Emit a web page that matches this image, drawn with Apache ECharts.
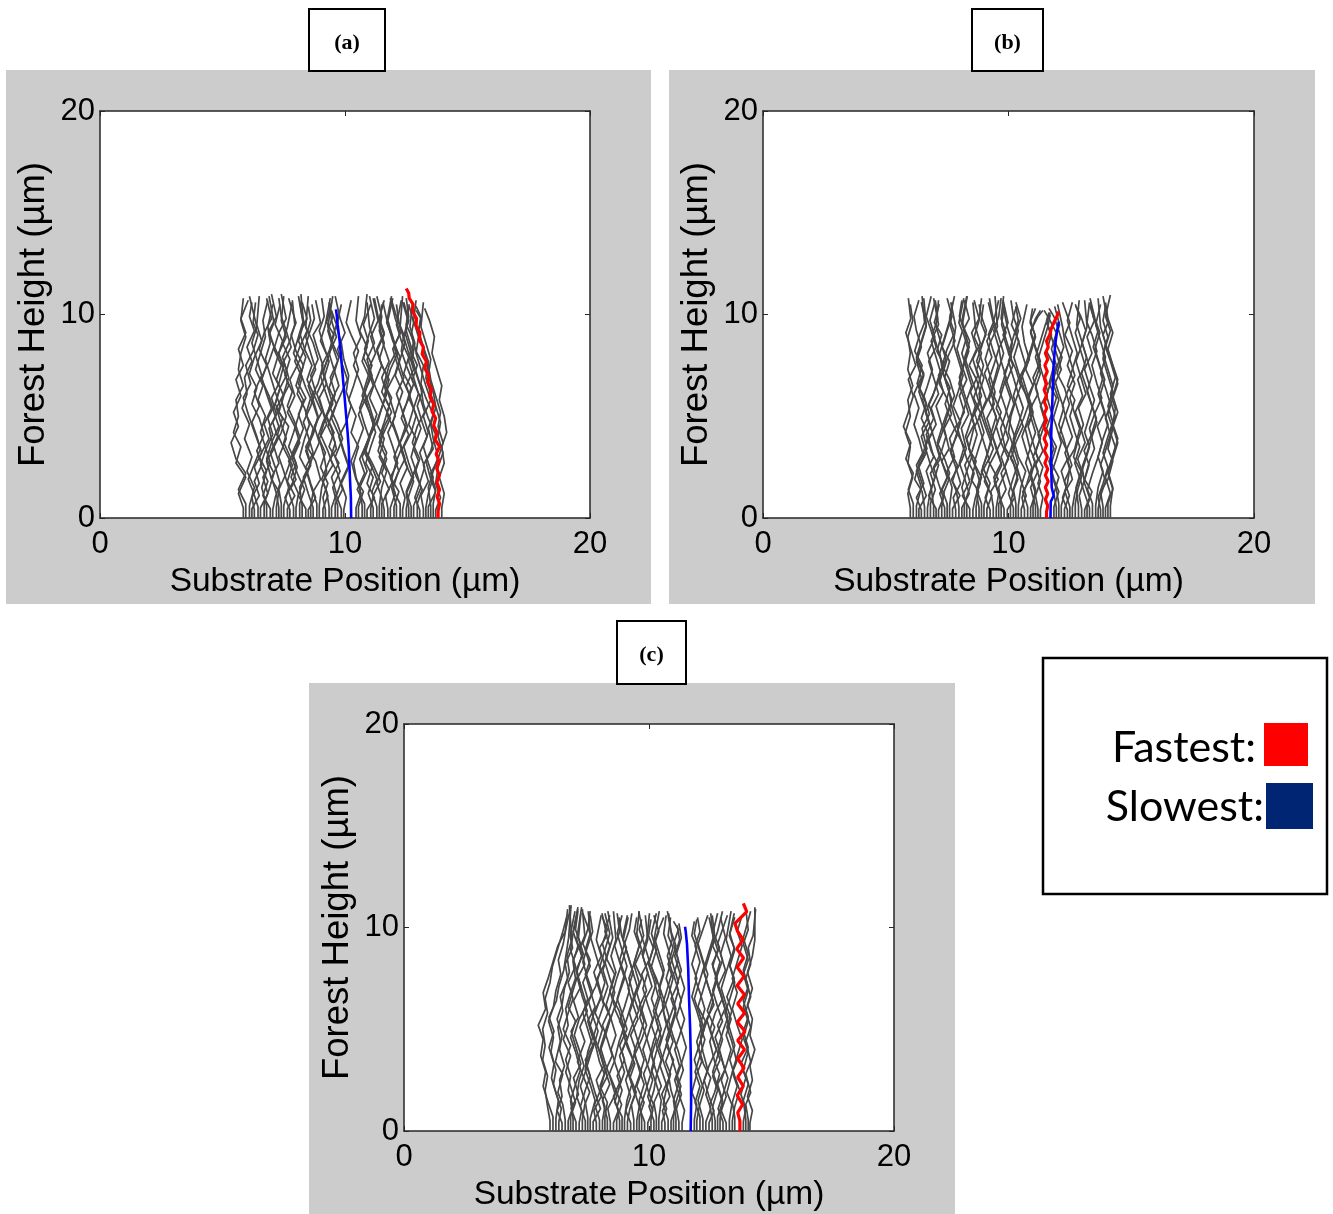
<!DOCTYPE html>
<html><head><meta charset="utf-8">
<script src="https://cdn.jsdelivr.net/npm/echarts@6/dist/echarts.min.js"></script>
<style>html,body{margin:0;padding:0;background:#fff;}#c{width:1333px;height:1214px;}</style>
</head><body><div id="c"></div>
<script>
// ---------------- DATA ----------------
const xTicks = [0, 10, 20];
const yTicks = [0, 10, 20];
const panelLabels = ['(a)', '(b)', '(c)'];
const legendLabels = ['Fastest:', 'Slowest:'];
const xTitle = 'Substrate Position (µm)';
const yTitle = 'Forest Height (µm)';

// sample heights (µm) for the gray CNT paths (last point = each path's top)
const H1 = [0,0.5,1.2,2.0,2.7,3.5,4.2,5.0,5.8,6.5,7.3,8.1,8.9,9.7];
const H2 = [0,0.6,1.5,2.3,3.0,3.9,4.6,5.4,6.1,6.9,7.7,8.4,9.2,9.9];
const H3 = [0,0.4,1.0,1.7,2.5,3.2,4.0,4.7,5.5,6.2,7.0,7.8,8.6,9.4];
const H4 = [0,0.7,1.4,2.2,2.9,3.7,4.5,5.2,6.0,6.8,7.5,8.3,9.1,9.8];
const H5 = [0,0.45,1.1,1.8,2.6,3.3,4.1,4.9,5.6,6.4,7.1,7.9,8.7,9.5];
const H6 = [0,0.55,1.3,1.9,2.8,3.4,4.4,5.1,5.9,6.6,7.5,8.2,9.0,9.6];

// panel (a) gray CNTs: base position (µm), top height (µm), lateral wander (0.1 µm)
const baseA = [5.85,6.1,6.3,6.55,6.8,7.05,7.3,7.5,7.75,8.0,8.25,8.5,8.7,8.95,9.2,9.45,9.7,9.95,10.45,10.7,10.9,11.15,11.4,11.6,11.85,12.1,12.35,12.6,12.8,13.05,13.3,13.5,13.7,13.95];
const topA = [10.8,10.6,10.9,10.7,11.0,10.5,10.9,10.8,10.6,11.0,10.7,10.9,10.4,10.8,10.9,10.6,10.3,10.5,10.9,11.0,10.6,10.8,10.9,10.5,10.8,10.7,10.9,10.6,10.8,10.5,10.7,10.4,10.6,10.3];
const wigA = [
[0,0,-2,1,-3,-1,-4,-2,-3,0,-2,-1,1,-1,0],
[0,0,2,-1,1,-2,0,-3,-1,-2,1,-1,2,0,1],
[0,0,-1,2,0,3,1,-1,2,0,3,1,-1,1,-2],
[0,0,3,1,4,2,0,2,-1,1,-2,0,2,1,3],
[0,0,-2,0,-3,1,-1,2,0,-2,1,3,1,4,2],
[0,0,1,3,1,-1,2,0,3,1,-1,-3,-1,-2,0],
[0,0,-1,-3,0,-2,1,3,1,4,2,0,3,1,2],
[0,0,2,0,-2,1,-1,-3,0,2,0,3,1,-1,-2],
[0,0,-2,1,3,1,4,2,-1,1,-2,0,-3,-1,1],
[0,0,1,-2,0,-3,-1,1,3,0,2,-1,1,3,2],
[0,0,-1,2,-1,1,3,1,-2,0,-3,-1,2,0,-1],
[0,0,3,1,-1,2,0,-2,1,3,1,4,2,-1,0],
[0,0,-2,-4,-1,-3,0,2,0,-2,1,-1,-3,-1,-2],
[0,0,1,3,2,0,3,1,-1,2,4,2,0,2,1],
[0,0,-1,1,-2,0,-3,-1,2,0,-2,1,3,1,3],
[0,0,2,0,3,-1,1,-2,0,3,1,-1,2,0,-1],
[0,0,-2,1,-1,2,0,-3,-1,-3,0,-2,-4,-2,-3],
[0,0,1,-1,2,0,-2,1,3,1,2,0,-1,-3,-1],
[0,0,2,0,-1,1,-2,0,-3,-1,1,-1,2,0,1],
[0,0,-1,2,0,3,1,-1,1,3,0,2,-1,1,2],
[0,0,3,0,2,-1,1,3,1,-1,2,0,3,1,0],
[0,0,-2,0,-3,-1,1,-1,-3,0,-2,1,-1,2,0],
[0,0,1,3,0,2,-1,1,3,1,4,2,0,1,-1],
[0,0,-1,-3,-1,1,-2,0,2,-1,1,-2,0,-2,-1],
[0,0,2,0,3,1,-1,2,0,-2,0,3,1,-1,1],
[0,0,-2,1,-1,2,4,2,0,3,1,-1,2,0,-2],
[0,0,1,-1,2,0,-2,-4,-2,0,-3,-1,1,-1,0],
[0,0,-1,2,0,-2,1,3,1,-1,2,0,-2,0,-2],
[0,0,3,1,-1,1,-2,0,2,0,-2,-1,-3,-2,-3],
[0,0,-2,0,2,0,3,1,-1,1,-1,-3,-2,-4,-3],
[0,0,1,3,1,-1,1,-1,2,0,-2,-4,-3,-5,-4],
[0,0,-1,1,3,1,0,2,0,-2,-1,-3,-5,-4,-6],
[0,0,2,0,1,3,1,2,0,-1,-3,-2,-4,-6,-5],
[0,0,1,-1,1,0,2,1,-1,0,-2,-4,-3,-5,-7]
];
const baseA2 = [5.95,6.2,6.45,6.7,6.95,7.2,7.4,7.65,7.9,8.15,8.4,8.6,8.85,9.1,9.35,9.6,9.85,10.55,10.8,11.05,11.3,11.5,11.75,12.0,12.25,12.5,12.7,12.95,13.2,13.4,13.6];
const topA2 = [10.7,10.9,10.6,10.8,10.5,10.9,11.0,10.7,10.8,10.6,10.9,10.7,10.5,10.8,10.6,10.9,10.2,10.7,10.9,10.5,10.8,10.7,10.6,10.9,10.8,10.7,10.5,10.6,10.4,10.5,10.2];
const wigA2 = [
[0,0,-3,0,-4,-6,-3,-5,-2,-4,-1,-3,0,-2,1],
[0,0,3,1,4,2,5,3,0,2,-1,1,4,2,3],
[0,0,-2,-4,-1,1,-2,-4,-6,-3,-5,-2,0,-2,-1],
[0,0,2,4,1,3,6,4,2,-1,1,-2,0,3,1],
[0,0,-3,-1,-4,-2,1,-1,2,4,1,3,5,2,4],
[0,0,1,-2,-4,-1,-3,0,-2,1,3,0,-3,-1,-3],
[0,0,-1,2,4,1,3,-1,1,-2,0,-3,-1,2,0],
[0,0,3,0,2,-1,-4,-2,-5,-3,0,-2,1,3,2],
[0,0,-2,1,-2,1,4,2,5,2,4,1,-1,1,-2],
[0,0,2,-1,-3,0,-2,-5,-2,-4,-1,2,0,3,1],
[0,0,-3,-1,2,0,3,5,3,0,-2,0,-3,-1,-3],
[0,0,1,4,2,-1,1,-2,0,3,5,3,1,4,2],
[0,0,-2,-4,-2,1,-1,2,-1,-4,-2,-5,-3,-1,-2],
[0,0,2,0,4,2,-1,1,4,2,0,2,-1,1,3],
[0,0,-1,-3,0,3,1,-2,-4,-1,-3,0,2,-1,1],
[0,0,3,1,-2,0,-3,-1,2,5,3,1,4,2,0],
[0,0,-2,0,3,1,-1,-4,-2,-5,-3,-1,-4,-2,-4],
[0,0,2,-1,-3,-1,2,0,3,1,-2,0,-3,-5,-3],
[0,0,-3,0,-2,1,4,2,-1,1,3,0,2,4,2],
[0,0,1,4,1,-2,0,3,5,2,0,-3,-1,-3,0],
[0,0,-2,0,-3,-5,-2,0,-3,-1,2,0,3,1,-1],
[0,0,3,0,2,-1,1,4,1,3,0,-2,1,-1,1],
[0,0,-1,2,-1,-4,-2,1,-2,0,3,5,2,0,-2],
[0,0,2,-1,1,3,0,-3,-1,-4,-2,1,-1,-3,-1],
[0,0,-3,-1,2,0,3,1,4,1,-1,-3,0,-2,-4],
[0,0,1,3,0,-2,1,-2,0,2,-1,1,-2,-4,-2],
[0,0,-2,0,3,1,4,2,-1,1,-2,-4,-3,-5,-6],
[0,0,2,-1,1,-2,0,3,1,-2,0,-3,-5,-4,-6],
[0,0,-1,2,0,3,5,2,0,-1,-3,-5,-4,-7,-6],
[0,0,3,1,-1,2,0,2,-1,-3,-2,-5,-7,-6,-8],
[0,0,1,-1,2,4,2,3,1,-1,-2,-4,-6,-5,-7]
];

// panel (b)
const baseB = [6.0,6.25,6.45,6.7,6.95,7.15,7.4,7.6,7.85,8.1,8.3,8.55,8.8,9.0,9.25,9.5,9.7,9.95,10.2,10.4,10.65,10.9,11.1,11.3,11.95,12.15,12.4,12.6,12.85,13.1,13.3,13.55,13.75,13.95,14.15];
const topB = [10.5,10.7,10.8,10.6,10.9,10.7,10.5,10.8,10.6,10.9,10.7,10.6,10.8,10.5,10.9,10.7,10.8,10.6,10.4,10.7,10.5,10.3,10.2,10.0,10.1,10.3,10.5,10.6,10.4,10.7,10.5,10.6,10.8,10.4,10.96];
const wigB = [
[0,0,-1,1,-1,0,-2,0,-1,1,-1,0,-1,1,0],
[0,0,2,0,3,1,-1,1,-1,2,0,2,0,-1,1],
[0,0,-2,1,-1,2,0,3,1,-1,1,-2,0,2,1],
[0,0,1,3,1,-1,2,0,-2,0,2,0,3,1,3],
[0,0,-1,-3,0,-2,1,-1,2,0,-2,1,-1,-3,-1],
[0,0,2,0,-2,1,3,1,-1,2,0,3,1,-1,0],
[0,0,-2,1,-1,-3,-1,1,3,1,-1,-2,0,2,3],
[0,0,1,-1,2,0,3,1,0,-2,0,-3,-1,1,-1],
[0,0,-1,2,0,-2,0,2,-1,1,3,1,-1,0,-2],
[0,0,3,1,-1,1,-2,0,2,4,2,0,2,0,2],
[0,0,-2,0,2,0,3,1,-1,-3,-1,1,-1,-3,-2],
[0,0,1,3,1,-1,-3,-1,1,-1,2,0,3,1,0],
[0,0,-1,1,-2,0,2,0,3,1,-1,1,-2,0,1],
[0,0,2,-1,1,3,1,-1,-2,0,-3,-1,1,-1,-2],
[0,0,-2,0,-3,-1,1,3,1,2,0,-2,0,3,2],
[0,0,1,-1,2,0,-2,0,-3,-1,1,3,1,-1,1],
[0,0,-1,2,0,3,1,-2,0,2,0,-1,-3,-1,0],
[0,0,3,1,-1,1,3,1,-1,-3,-1,1,2,0,-2],
[0,0,-2,0,2,0,-2,-1,1,3,1,-2,0,2,1],
[0,0,1,3,0,-2,0,2,0,-2,-4,-2,0,-2,-3],
[0,0,-1,1,3,1,-1,1,3,1,-1,2,0,-1,1],
[0,0,2,0,-2,0,2,0,-1,1,-2,0,2,0,2],
[0,0,-2,1,-1,2,0,-2,1,-1,2,0,-2,1,3],
[0,0,1,-1,1,-2,0,2,0,3,1,-1,1,3,4],
[0,0,-1,1,-2,0,-3,-1,1,-1,2,0,-2,-4,-3],
[0,0,2,0,3,1,-1,1,-1,-3,-1,1,-1,-3,-5],
[0,0,-2,0,1,-1,2,0,-2,0,3,1,-1,-2,-4],
[0,0,1,3,1,3,1,-1,1,-2,0,2,0,-2,0],
[0,0,-1,1,-2,0,2,0,3,1,-1,1,3,1,-1],
[0,0,2,0,-1,1,3,5,3,1,3,1,-1,1,0],
[0,0,-2,-4,-2,0,-2,0,2,0,-2,1,-1,2,0],
[0,0,1,3,1,3,5,3,1,3,1,-1,1,-1,-2],
[0,0,-1,1,3,1,3,5,3,5,3,1,2,0,-1],
[0,0,2,0,2,4,2,4,2,3,1,-1,1,-1,0],
[0,0,1,-1,1,3,1,2,0,2,0,-2,0,-2,0]
];
const baseB2 = [6.12,6.35,6.58,6.82,7.05,7.28,7.5,7.72,7.98,8.2,8.42,8.68,8.9,9.12,9.38,9.6,9.82,10.08,10.3,10.52,10.78,11.0,11.2,11.85,12.05,12.28,12.5,12.72,12.98,13.2,13.42,13.65,13.85,14.05];
const topB2 = [10.8,10.6,10.9,10.7,10.8,10.5,10.9,10.6,10.8,10.7,10.9,10.5,10.7,10.8,10.6,10.9,10.5,10.7,10.6,10.4,10.3,10.2,10.1,10.0,10.2,10.4,10.6,10.5,10.7,10.6,10.8,10.5,10.9,10.6];
const wigB2 = [
[0,0,-2,0,-3,-1,-4,-2,0,-2,1,-1,-3,-1,-2],
[0,0,3,1,-1,2,4,1,3,0,2,-1,1,3,1],
[0,0,-1,-4,-2,1,-1,2,0,-3,-1,-4,-2,0,-1],
[0,0,2,0,4,2,0,-2,1,3,5,3,1,3,2],
[0,0,-3,-1,1,-2,-4,-1,-3,0,2,0,-2,1,-1],
[0,0,1,3,0,3,1,4,2,-1,1,-2,0,-3,-1],
[0,0,-2,1,-1,-4,-2,0,3,1,-2,0,3,1,3],
[0,0,3,0,2,-1,2,-1,-3,-1,-4,-2,1,-1,0],
[0,0,-1,-3,1,3,1,4,2,0,2,4,2,0,2],
[0,0,2,4,1,-1,-3,0,-2,1,-1,-3,-1,2,0],
[0,0,-3,0,-2,1,3,1,4,2,0,-2,0,-3,-1],
[0,0,1,-2,0,-3,-1,2,-1,1,3,1,4,2,3],
[0,0,-2,0,3,1,-1,-3,0,-2,-5,-2,-4,-1,-3],
[0,0,2,-1,1,4,2,0,3,1,-1,2,0,3,1],
[0,0,-1,2,-2,0,-3,-5,-2,0,2,0,-2,0,-2],
[0,0,3,1,4,1,-1,1,-2,-4,-2,0,3,1,2],
[0,0,-2,-4,-1,-3,0,2,4,2,0,3,1,-1,0],
[0,0,1,3,1,-2,-4,-2,0,-2,1,-1,-3,-1,-3],
[0,0,-1,1,-2,0,3,1,-1,1,4,2,0,2,0],
[0,0,2,0,-2,-4,-2,1,3,1,-1,-3,-1,-4,-2],
[0,0,-2,1,3,1,-1,2,0,-3,-1,1,3,1,2],
[0,0,1,-1,2,0,-2,0,-2,1,3,1,-1,1,3],
[0,0,-1,1,-1,2,0,3,1,-1,1,-1,1,3,5],
[0,0,2,0,-2,0,-3,-1,1,-2,0,-3,-1,-3,-2],
[0,0,-1,-3,-1,1,-1,-3,-5,-3,-1,-3,-1,-4,-6],
[0,0,2,0,3,1,-2,0,2,0,-3,-1,-4,-2,-4],
[0,0,-2,1,-1,2,4,2,0,2,-1,1,-2,0,-3],
[0,0,1,3,1,4,2,0,3,1,4,2,0,2,0],
[0,0,-1,1,3,1,4,6,4,2,0,2,0,-2,-1],
[0,0,2,-1,1,3,1,3,6,4,2,4,2,0,1],
[0,0,-2,0,2,4,2,5,3,5,3,1,3,1,-1],
[0,0,1,3,1,3,5,3,5,3,1,3,1,-1,1],
[0,0,-1,2,4,2,4,2,4,6,4,2,0,2,0],
[0,0,2,0,2,4,2,4,2,4,2,0,2,0,-1]
];

// panel (c)
const baseC = [5.96,6.2,6.45,6.7,6.9,7.15,7.4,7.6,7.85,8.1,8.3,8.55,8.8,9.0,9.25,9.5,9.7,9.95,10.2,10.4,10.65,10.9,11.1,11.35,11.95,12.2,12.45,12.7,12.9,13.15,13.4,13.95,14.12];
const topC = [10.6,11.0,11.1,10.9,10.8,11.0,10.7,10.8,10.6,10.7,10.5,10.8,10.6,10.7,10.5,10.8,10.4,10.6,10.7,10.5,10.8,10.6,10.3,10.1,10.4,10.6,10.5,10.7,10.6,10.8,10.5,10.9,11.0];
const wigC = [
[0,0,-1,-2,-1,-3,-2,-3,-1,-2,0,1,3,5,7],
[0,0,1,-1,0,-2,-1,-3,-1,0,2,1,3,4,6],
[0,0,-2,0,-1,1,-1,0,-2,0,1,3,2,4,3],
[0,0,2,0,1,-1,1,-2,0,2,0,3,1,2,4],
[0,0,-1,1,3,1,-1,1,-2,0,2,0,3,1,2],
[0,0,1,-1,0,2,0,-2,0,3,1,-1,1,-1,1],
[0,0,-2,0,2,0,3,1,-1,1,-1,2,0,2,-1],
[0,0,2,0,-2,-1,1,-1,2,0,-2,0,-3,-1,0],
[0,0,-1,2,0,3,1,-1,1,3,1,-1,2,0,2],
[0,0,1,-1,2,0,-2,0,-3,-1,1,-1,1,3,1],
[0,0,-2,1,-1,-3,-1,1,3,1,3,0,-2,0,-2],
[0,0,2,0,3,1,-1,1,-1,-3,-1,1,-1,1,0],
[0,0,-1,1,-1,2,0,3,1,-1,1,3,1,-1,1],
[0,0,1,3,1,-1,1,-2,0,2,0,-2,0,2,3],
[0,0,-2,0,-2,0,2,0,3,1,-1,1,-1,-3,-1],
[0,0,1,-1,1,3,1,-1,-3,-1,1,-1,2,0,1],
[0,0,-1,1,-1,-3,-1,1,-1,2,0,3,1,-1,0],
[0,0,2,0,2,0,-2,0,2,0,-2,0,-2,0,-1],
[0,0,-2,0,1,3,1,3,1,-1,1,-1,1,-1,1],
[0,0,1,-1,-3,-1,1,-1,2,0,2,0,-2,0,2],
[0,0,-1,2,0,-2,0,2,0,-1,1,3,1,3,1],
[0,0,2,0,-1,1,-2,0,2,0,3,1,-1,-3,-2],
[0,0,-1,1,3,1,-1,-3,-1,1,-1,1,-1,1,-1],
[0,0,1,-1,-3,-1,-3,-1,1,-1,1,-1,-3,-1,-2],
[0,0,1,3,1,-1,1,3,1,-1,1,3,1,-1,0],
[0,0,-2,0,2,0,-1,1,-2,0,2,0,-2,0,2],
[0,0,2,0,-2,0,3,1,-1,2,0,-2,0,2,0],
[0,0,-1,1,-1,2,0,-2,0,3,1,-1,1,-1,1],
[0,0,1,-1,2,0,-2,1,-1,-3,-1,1,-1,1,3],
[0,0,-2,0,-2,0,2,0,2,0,-2,0,2,0,2],
[0,0,1,3,1,-1,1,-1,-3,-1,1,-1,1,-1,1],
[0,0,-1,1,-1,1,-1,1,-1,1,-1,1,-1,1,0],
[0,0,1,-1,1,0,2,0,1,-1,1,-1,1,2,2]
];
const baseC2 = [6.08,6.32,6.58,6.8,7.02,7.28,7.5,7.72,7.98,8.2,8.42,8.68,8.9,9.12,9.38,9.6,9.82,10.08,10.3,10.52,10.78,11.0,11.22,11.85,12.08,12.32,12.58,12.8,13.02,13.28,13.5,13.85,14.05];
const topC2 = [10.9,11.1,10.8,11.0,10.7,10.9,10.6,10.8,10.7,10.6,10.8,10.5,10.7,10.6,10.8,10.5,10.7,10.4,10.6,10.8,10.5,10.7,10.2,10.3,10.5,10.7,10.6,10.8,10.5,10.7,10.6,10.8,10.9];
const wigC2 = [
[0,0,-2,-4,-3,-5,-4,-6,-3,-4,-2,0,2,5,6],
[0,0,1,-1,-3,-2,-4,-2,-4,-1,0,2,3,4,5],
[0,0,-1,-3,-1,-4,-2,-3,-1,-2,1,0,3,2,4],
[0,0,2,0,-2,0,-3,-1,-2,0,2,1,3,1,3],
[0,0,-2,1,-1,2,0,-2,1,-1,2,0,3,1,2],
[0,0,1,3,0,-2,1,-1,2,0,-2,1,-1,1,0],
[0,0,-1,-3,-1,1,3,1,-1,2,0,-2,0,2,1],
[0,0,3,1,-1,-3,0,2,0,-2,1,3,1,-1,-2],
[0,0,-2,0,2,0,-2,-4,-2,1,-1,2,0,3,1],
[0,0,1,-2,0,3,1,-1,2,4,2,0,2,0,2],
[0,0,-1,2,0,-2,-4,-2,0,-3,-1,-3,-1,1,-1],
[0,0,2,0,-3,-1,1,3,1,-2,0,2,4,2,1],
[0,0,-3,-1,1,-1,2,0,-3,-1,1,-1,-3,-1,-2],
[0,0,1,3,1,3,0,-2,0,2,4,2,0,-2,0],
[0,0,-1,1,-2,0,-3,-1,2,0,-2,0,2,4,2],
[0,0,2,-1,1,-2,1,3,1,-1,1,-2,0,-2,-1],
[0,0,-2,0,2,4,2,0,-2,0,3,1,-1,1,2],
[0,0,1,-1,-3,-1,1,3,1,3,1,-1,1,-1,0],
[0,0,-1,2,0,-2,0,-2,0,2,0,-3,-1,1,-1],
[0,0,2,0,3,1,-1,1,3,1,-1,1,-1,-3,-1],
[0,0,-2,-1,1,-1,2,0,-2,0,2,0,2,0,1],
[0,0,1,3,1,-1,-3,-1,1,-1,-3,-1,1,-1,-2],
[0,0,-1,1,-1,1,3,1,-1,1,-1,1,-1,1,0],
[0,0,1,-1,1,3,1,3,1,-1,1,-1,1,-1,0],
[0,0,-2,0,-2,0,2,0,2,0,-2,0,-2,0,-1],
[0,0,2,0,2,-1,-3,-1,1,3,1,-1,1,3,2],
[0,0,-1,1,3,1,-1,1,-2,0,2,0,3,1,0],
[0,0,2,0,-2,0,2,0,3,1,-1,1,-2,0,2],
[0,0,-2,0,2,0,-2,0,2,0,-2,1,-1,1,-1],
[0,0,1,-1,1,3,1,-1,1,-1,2,0,2,0,2],
[0,0,-1,1,-1,1,3,1,-1,1,-1,1,3,1,3],
[0,0,1,-1,1,-1,2,0,2,0,2,0,2,0,3],
[0,0,-1,1,-1,1,-1,1,-1,1,-1,1,0,2,3]
];

// highlighted CNTs [x µm, height µm]
const fastestA = [[13.80,0],[13.80,0.35],[13.86,0.7],[13.76,1.05],[13.86,1.4],[13.75,1.75],[13.85,2.1],[13.74,2.45],[13.84,2.8],[13.72,3.15],[13.86,3.5],[13.68,3.85],[13.76,4.2],[13.62,4.55],[13.70,4.9],[13.55,5.25],[13.62,5.6],[13.47,5.95],[13.53,6.3],[13.38,6.65],[13.42,7.0],[13.26,7.35],[13.32,7.7],[13.15,8.05],[13.2,8.4],[13.03,8.75],[13.06,9.1],[12.9,9.45],[12.92,9.8],[12.76,10.15],[12.78,10.5],[12.62,10.8],[12.6,11.05],[12.5,11.28]];
const slowestA = [[10.25,0],[10.24,1],[10.2,2],[10.15,3.5],[10.1,4.3],[10.05,5.0],[9.98,6.0],[9.92,6.8],[9.85,7.8],[9.78,8.7],[9.7,9.5],[9.66,10.0],[9.63,10.25]];
const fastestB = [[11.55,0],[11.55,0.3],[11.6,0.6],[11.5,0.9],[11.6,1.2],[11.5,1.5],[11.62,1.8],[11.5,2.1],[11.6,2.4],[11.48,2.7],[11.58,3.0],[11.46,3.3],[11.56,3.6],[11.45,3.9],[11.55,4.2],[11.44,4.5],[11.55,4.8],[11.45,5.1],[11.56,5.4],[11.46,5.7],[11.55,6.0],[11.45,6.3],[11.55,6.6],[11.47,6.9],[11.58,7.2],[11.48,7.5],[11.6,7.8],[11.5,8.1],[11.62,8.4],[11.55,8.7],[11.68,9.0],[11.74,9.3],[11.84,9.58],[11.95,9.85],[12.05,10.14]];
const slowestB = [[11.71,0],[11.72,0.8],[11.84,1.1],[11.76,1.5],[11.74,2.5],[11.74,4.08],[11.78,5.5],[11.83,7.35],[11.9,8.5],[11.98,9.2],[12.05,9.65]];
const fastestC = [[13.71,0],[13.71,0.5],[13.62,0.9],[13.82,1.3],[13.6,1.75],[13.85,2.2],[13.62,2.65],[13.88,3.1],[13.62,3.55],[13.9,4.0],[13.62,4.45],[13.92,4.9],[13.6,5.35],[13.9,5.8],[13.62,6.25],[13.9,6.7],[13.6,7.15],[13.88,7.6],[13.6,8.05],[13.86,8.5],[13.58,8.95],[13.84,9.4],[13.6,9.85],[13.51,10.2],[13.99,10.78],[13.85,11.19]];
const slowestC = [[11.7,0],[11.72,1.5],[11.71,3.4],[11.68,5.0],[11.63,6.68],[11.6,8.0],[11.55,9.2],[11.5,9.8],[11.47,10.04]];

// ---------------- BUILD ----------------
function forest(bases, tops, wigs, hsets) {
  return bases.map((b, i) => {
    const hs = hsets[i % hsets.length].concat([tops[i]]);
    return { coords: wigs[i].map((o, k) => [b + o / 10, hs[k]]) };
  });
}
const setA = [H1, H2, H3], setB = [H4, H5, H6];
const forests = [
  forest(baseA, topA, wigA, setA).concat(forest(baseA2, topA2, wigA2, setB)),
  forest(baseB, topB, wigB, setA).concat(forest(baseB2, topB2, wigB2, setB)),
  forest(baseC, topC, wigC, setA).concat(forest(baseC2, topC2, wigC2, setB))
];
const fastest = [fastestA, fastestB, fastestC];
const slowest = [slowestA, slowestB, slowestC];

const grids = [
  { left: 100, top: 111, width: 490, height: 407 },
  { left: 763, top: 111, width: 491, height: 407 },
  { left: 404, top: 724, width: 490, height: 407 }
];
const panelsBg = [
  { x: 6, y: 70, width: 645, height: 534 },
  { x: 669, y: 70, width: 646, height: 534 },
  { x: 309, y: 683, width: 646, height: 531 }
];
const labelBoxes = [
  { x: 309, y: 9, width: 76, height: 62 },
  { x: 972, y: 9, width: 71, height: 62 },
  { x: 617, y: 621, width: 69, height: 63 }
];

const FONT = 'Liberation Sans, Arial, sans-serif';
const axisCol = '#262626';
const xAxes = [], yAxes = [];
for (let i = 0; i < 3; i++) {
  xAxes.push({
    gridIndex: i, type: 'value', min: xTicks[0], max: xTicks[2], interval: xTicks[1] - xTicks[0], position: 'bottom',
    axisLine: { show: true, onZero: false, lineStyle: { color: axisCol, width: 1.5 } },
    axisTick: { show: true, inside: true, length: 5, lineStyle: { color: axisCol } },
    axisLabel: { show: true, fontSize: 31, color: '#000', fontFamily: FONT, margin: 11 },
    splitLine: { show: false },
    name: xTitle, nameLocation: 'middle', nameGap: 47,
    nameTextStyle: { fontSize: 33.5, color: '#000', fontFamily: FONT }
  });
  yAxes.push({
    gridIndex: i, type: 'value', min: yTicks[0], max: yTicks[2], interval: yTicks[1] - yTicks[0], position: 'left',
    axisLine: { show: true, onZero: false, lineStyle: { color: axisCol, width: 1.5 } },
    axisTick: { show: true, inside: true, length: 5, lineStyle: { color: axisCol } },
    axisLabel: { show: true, fontSize: 31, color: '#000', fontFamily: FONT, margin: 5 },
    splitLine: { show: false },
    name: yTitle, nameLocation: 'middle', nameGap: 48,
    nameTextStyle: { fontSize: 36.5, color: '#000', fontFamily: FONT }
  });
}
for (let i = 0; i < 3; i++) {
  xAxes.push({
    gridIndex: i, type: 'value', min: xTicks[0], max: xTicks[2], interval: xTicks[1] - xTicks[0], position: 'top',
    axisLine: { show: true, onZero: false, lineStyle: { color: axisCol, width: 1.5 } },
    axisTick: { show: true, inside: true, length: 5, lineStyle: { color: axisCol } },
    axisLabel: { show: false }, splitLine: { show: false }
  });
  yAxes.push({
    gridIndex: i, type: 'value', min: yTicks[0], max: yTicks[2], interval: yTicks[1] - yTicks[0], position: 'right',
    axisLine: { show: true, onZero: false, lineStyle: { color: axisCol, width: 1.5 } },
    axisTick: { show: true, inside: true, length: 5, lineStyle: { color: axisCol } },
    axisLabel: { show: false }, splitLine: { show: false }
  });
}

const series = [];
for (let i = 0; i < 3; i++) {
  series.push({
    type: 'lines', coordinateSystem: 'cartesian2d', xAxisIndex: i, yAxisIndex: i,
    polyline: true, silent: true, data: forests[i],
    lineStyle: { color: '#474747', width: 1.7, opacity: 1 }, z: 2
  });
  series.push({
    type: 'line', xAxisIndex: i, yAxisIndex: i, data: slowest[i], showSymbol: false, silent: true,
    lineStyle: { color: '#0000ff', width: 2.6 }, z: 4
  });
  series.push({
    type: 'line', xAxisIndex: i, yAxisIndex: i, data: fastest[i], showSymbol: false, silent: true,
    lineStyle: { color: '#ff0000', width: 3.2 }, z: 5
  });
}

const graphic = [];
panelsBg.forEach(r => graphic.push({ type: 'rect', shape: r, style: { fill: '#cccccc' }, z: -10, silent: true }));
labelBoxes.forEach((r, i) => {
  graphic.push({ type: 'rect', shape: r, style: { fill: '#fff', stroke: '#000', lineWidth: 2 }, z: 10, silent: true });
  graphic.push({ type: 'text', x: r.x + r.width / 2, y: r.y + r.height / 2 + 3, z: 11, silent: true,
    style: { text: panelLabels[i], font: 'bold 22px "Liberation Serif", "Times New Roman", serif', fill: '#000', align: 'center', verticalAlign: 'middle' } });
});
graphic.push({ type: 'rect', shape: { x: 1043, y: 658, width: 284, height: 236 }, style: { fill: '#fff', stroke: '#000', lineWidth: 2.5 }, z: 10, silent: true });
graphic.push({ type: 'text', x: 1256, y: 748, z: 11, silent: true,
  style: { text: legendLabels[0], font: '43px Lato, "Open Sans", sans-serif', fill: '#000', align: 'right', verticalAlign: 'middle' } });
graphic.push({ type: 'text', x: 1264, y: 807, z: 11, silent: true,
  style: { text: legendLabels[1], font: '43px Lato, "Open Sans", sans-serif', fill: '#000', align: 'right', verticalAlign: 'middle' } });
graphic.push({ type: 'rect', shape: { x: 1264, y: 723, width: 44, height: 43 }, style: { fill: '#ff0000' }, z: 11, silent: true });
graphic.push({ type: 'rect', shape: { x: 1266, y: 783, width: 47, height: 46 }, style: { fill: '#002673' }, z: 11, silent: true });

const chart = echarts.init(document.getElementById('c'), null, { renderer: 'canvas' });
chart.setOption({
  animation: false,
  backgroundColor: '#fff',
  grid: grids.map(g => Object.assign({ show: true, backgroundColor: '#fff', borderWidth: 0, containLabel: false }, g)),
  xAxis: xAxes,
  yAxis: yAxes,
  series: series,
  graphic: graphic
});
</script>
</body></html>
